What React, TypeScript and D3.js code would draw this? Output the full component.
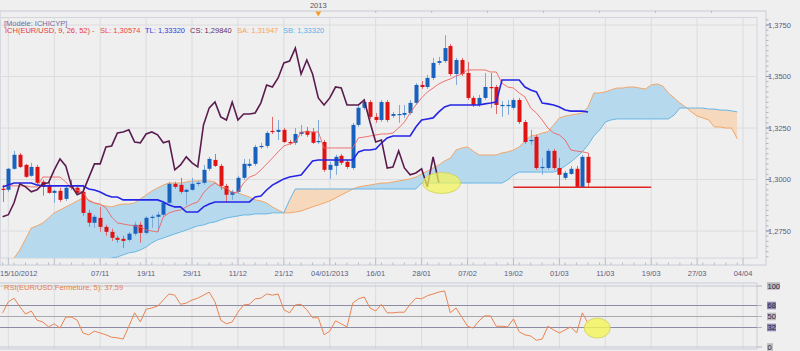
import React from "react";
import * as d3 from "d3";

// ---------- DATA ----------
// OHLC per daily bar, index 0 = first bar on screen
const candles: number[][] = [
  [1.2955,1.2974,1.2891,1.2950],[1.2950,1.3056,1.2940,1.3052],[1.3052,1.3139,1.3047,1.3120],[1.3120,1.3129,1.3056,1.3061],
  [1.3071,1.3076,1.3008,1.3013],[1.3018,1.3081,1.3013,1.3061],[1.3061,1.3071,1.2974,1.2984],[1.2989,1.2998,1.2921,1.2964],
  [1.2974,1.2998,1.2931,1.2935],[1.2935,1.2950,1.2887,1.2945],[1.2945,1.2960,1.2891,1.2901],[1.2906,1.2969,1.2896,1.2960],
  [1.2969,1.2998,1.2950,1.2960],[1.2960,1.2974,1.2926,1.2935],[1.2940,1.2974,1.2824,1.2838],[1.2838,1.2853,1.2770,1.2790],
  [1.2790,1.2829,1.2765,1.2819],[1.2814,1.2867,1.2746,1.2770],[1.2770,1.2780,1.2727,1.2746],[1.2746,1.2761,1.2702,1.2717],
  [1.2717,1.2727,1.2693,1.2707],[1.2712,1.2727,1.2668,1.2702],[1.2707,1.2746,1.2698,1.2737],[1.2737,1.2795,1.2727,1.2780],
  [1.2780,1.2795,1.2693,1.2741],[1.2741,1.2824,1.2732,1.2814],[1.2814,1.2829,1.2765,1.2819],[1.2819,1.2843,1.2746,1.2829],
  [1.2829,1.2896,1.2819,1.2887],[1.2887,1.2989,1.2877,1.2979],[1.2979,1.2989,1.2955,1.2964],[1.2974,1.3008,1.2931,1.2940],
  [1.2940,1.2955,1.2877,1.2950],[1.2950,1.3008,1.2945,1.2979],[1.2979,1.2994,1.2969,1.2984],[1.2984,1.3071,1.2974,1.3047],
  [1.3052,1.3110,1.3042,1.3100],[1.3095,1.3124,1.3061,1.3066],[1.3066,1.3076,1.2950,1.2969],[1.2969,1.2979,1.2887,1.2926],
  [1.2926,1.2950,1.2901,1.2940],[1.2940,1.3018,1.2931,1.3008],[1.3008,1.3100,1.2998,1.3076],[1.3066,1.3100,1.3056,1.3076],
  [1.3076,1.3168,1.3066,1.3158],[1.3158,1.3178,1.3149,1.3163],[1.3163,1.3236,1.3153,1.3226],[1.3236,1.3304,1.3221,1.3231],
  [1.3231,1.3289,1.3192,1.3241],[1.3241,1.3250,1.3178,1.3182],[1.3182,1.3192,1.3168,1.3178],[1.3178,1.3250,1.3168,1.3221],
  [1.3221,1.3265,1.3211,1.3231],[1.3236,1.3255,1.3207,1.3217],[1.3231,1.3250,1.3173,1.3178],[1.3182,1.3289,1.3173,1.3187],
  [1.3182,1.3192,1.3037,1.3047],[1.3047,1.3086,1.3003,1.3071],[1.3066,1.3120,1.3023,1.3110],[1.3115,1.3124,1.3071,1.3081],
  [1.3086,1.3095,1.3052,1.3061],[1.3056,1.3275,1.3047,1.3265],[1.3265,1.3357,1.3255,1.3348],[1.3348,1.3391,1.3338,1.3376],
  [1.3376,1.3386,1.3294,1.3304],[1.3304,1.3323,1.3275,1.3289],[1.3289,1.3386,1.3279,1.3376],[1.3376,1.3386,1.3279,1.3289],
  [1.3309,1.3328,1.3299,1.3318],[1.3314,1.3362,1.3275,1.3318],[1.3314,1.3362,1.3299,1.3323],[1.3323,1.3386,1.3314,1.3372],
  [1.3372,1.3468,1.3362,1.3459],[1.3459,1.3478,1.3440,1.3449],[1.3449,1.3508,1.3440,1.3493],[1.3493,1.3590,1.3483,1.3566],
  [1.3566,1.3595,1.3556,1.3575],[1.3575,1.3701,1.3566,1.3638],[1.3648,1.3658,1.3502,1.3512],[1.3512,1.3590,1.3459,1.3580],
  [1.3580,1.3590,1.3502,1.3512],[1.3517,1.3570,1.3386,1.3396],[1.3396,1.3406,1.3352,1.3362],[1.3362,1.3411,1.3352,1.3396],
  [1.3396,1.3517,1.3386,1.3449],[1.3449,1.3517,1.3348,1.3444],[1.3449,1.3459,1.3318,1.3362],[1.3357,1.3381,1.3304,1.3362],
  [1.3357,1.3386,1.3314,1.3362],[1.3348,1.3396,1.3338,1.3386],[1.3386,1.3396,1.3270,1.3279],[1.3279,1.3289,1.3173,1.3182],
  [1.3187,1.3241,1.3168,1.3192],[1.3207,1.3217,1.3047,1.3056],[1.3056,1.3105,1.3023,1.3061],[1.3056,1.3149,1.3047,1.3139],
  [1.3139,1.3149,1.3047,1.3056],[1.3056,1.3105,1.2964,1.3023],[1.3008,1.3042,1.2998,1.3032],[1.3027,1.3066,1.3023,1.3052],
  [1.3052,1.3066,1.2960,1.2964],[1.2964,1.3120,1.2960,1.3110],[1.3110,1.3129,1.2960,1.2984],
];

// Tenkan-sen (SL, 9)
const tenkan: number[] = [
  1.2969,1.2969,1.2969,1.2969,1.2969,1.2964,1.2964,1.3012,1.3012,1.3012,
  1.3012,1.2988,1.2959,1.2949,1.2939,1.2896,1.2886,1.2881,1.2862,1.2818,
  1.2789,1.2784,1.2779,1.2775,1.2770,1.2755,1.2750,1.2745,1.2818,1.2838,
  1.2847,1.2852,1.2867,1.2881,1.2891,1.2935,1.2964,1.2983,1.2964,1.2959,
  1.2935,1.2939,1.2983,1.3012,1.3022,1.3046,1.3075,1.3104,1.3134,1.3163,
  1.3172,1.3182,1.3231,1.3231,1.3231,1.3231,1.3153,1.3153,1.3153,1.3153,
  1.3153,1.3153,1.3202,1.3206,1.3211,1.3216,1.3221,1.3221,1.3226,1.3250,
  1.3279,1.3323,1.3362,1.3396,1.3425,1.3444,1.3464,1.3478,1.3488,1.3502,
  1.3512,1.3532,1.3532,1.3532,1.3532,1.3522,1.3522,1.3468,1.3449,1.3444,
  1.3420,1.3401,1.3347,1.3323,1.3289,1.3250,1.3226,1.3216,1.3192,1.3143,
  1.3138,1.3134,1.3129,
];

// Kijun-sen (TL, 26)
const kijun: number[] = [
  1.2964,1.2973,1.2983,1.2983,1.2983,1.2983,1.2973,1.2969,1.2969,1.2969,
  1.2969,1.2969,1.2969,1.2969,1.2969,1.2954,1.2949,1.2939,1.2925,1.2915,
  1.2915,1.2901,1.2901,1.2901,1.2901,1.2901,1.2901,1.2901,1.2891,1.2876,
  1.2867,1.2867,1.2842,1.2842,1.2842,1.2867,1.2881,1.2891,1.2891,1.2891,
  1.2891,1.2891,1.2891,1.2891,1.2915,1.2920,1.2949,1.2973,1.2988,1.3003,
  1.3012,1.3017,1.3022,1.3056,1.3090,1.3095,1.3095,1.3095,1.3095,1.3095,
  1.3095,1.3095,1.3134,1.3143,1.3143,1.3148,1.3177,1.3202,1.3211,1.3211,
  1.3211,1.3211,1.3255,1.3289,1.3294,1.3299,1.3328,1.3352,1.3362,1.3362,
  1.3362,1.3362,1.3362,1.3362,1.3367,1.3371,1.3376,1.3483,1.3483,1.3483,
  1.3483,1.3449,1.3435,1.3425,1.3371,1.3367,1.3362,1.3352,1.3337,1.3332,
  1.3332,1.3332,1.3328,
];

// Senkou span A (SA) and B (SB), projected 26 bars ahead (indices 0..128)
const senkouA: number[] = [
  1.2536,1.2575,1.2619,1.2658,1.2711,1.2765,1.2775,1.2789,1.2813,1.2838,
  1.2852,1.2867,1.2881,1.2896,1.2910,1.2901,1.2886,1.2876,1.2871,1.2867,
  1.2876,1.2881,1.2881,1.2886,1.2906,1.2925,1.2944,1.2959,1.2973,1.2983,
  1.2983,1.2983,1.2988,1.2993,1.2993,1.2993,1.2993,1.2988,1.2964,1.2949,
  1.2939,1.2935,1.2925,1.2915,1.2901,1.2896,1.2886,1.2867,1.2852,1.2838,
  1.2838,1.2842,1.2847,1.2857,1.2867,1.2876,1.2886,1.2896,1.2910,1.2925,
  1.2939,1.2954,1.2964,1.2969,1.2973,1.2978,1.2983,1.2983,1.2988,1.2993,
  1.2998,1.3003,1.3012,1.3027,1.3041,1.3056,1.3070,1.3090,1.3104,1.3143,
  1.3153,1.3158,1.3138,1.3119,1.3119,1.3119,1.3119,1.3129,1.3134,1.3143,
  1.3158,1.3187,1.3211,1.3216,1.3226,1.3231,1.3265,1.3299,1.3308,1.3313,
  1.3318,1.3323,1.3352,1.3420,1.3420,1.3425,1.3435,1.3444,1.3444,1.3449,
  1.3449,1.3444,1.3439,1.3459,1.3464,1.3454,1.3420,1.3396,1.3371,1.3352,
  1.3328,1.3308,1.3299,1.3289,1.3255,1.3255,1.3250,1.3250,1.3197,
];
const senkouB: number[] = [
  1.2464,1.2469,1.2474,1.2478,1.2483,1.2488,1.2498,1.2507,1.2517,1.2527,
  1.2536,1.2546,1.2556,1.2561,1.2571,1.2580,1.2590,1.2600,1.2609,1.2619,
  1.2624,1.2634,1.2644,1.2648,1.2658,1.2672,1.2692,1.2707,1.2716,1.2726,
  1.2736,1.2745,1.2755,1.2765,1.2775,1.2779,1.2789,1.2794,1.2804,1.2813,
  1.2818,1.2823,1.2828,1.2828,1.2833,1.2833,1.2833,1.2838,1.2838,1.2838,
  1.2901,1.2954,1.2954,1.2954,1.2954,1.2954,1.2954,1.2954,1.2954,1.2954,
  1.2954,1.2954,1.2954,1.2954,1.2954,1.2954,1.2954,1.2954,1.2954,1.2954,
  1.2954,1.2954,1.2954,1.2983,1.2983,1.2983,1.2983,1.2983,1.2983,1.2983,
  1.2983,1.2983,1.2983,1.2983,1.2983,1.2983,1.2983,1.2983,1.2998,1.3022,
  1.3036,1.3036,1.3036,1.3036,1.3036,1.3036,1.3036,1.3046,1.3066,1.3085,
  1.3109,1.3134,1.3168,1.3211,1.3240,1.3279,1.3289,1.3294,1.3294,1.3294,
  1.3294,1.3294,1.3294,1.3294,1.3294,1.3294,1.3294,1.3313,1.3347,1.3347,
  1.3347,1.3347,1.3347,1.3342,1.3342,1.3337,1.3337,1.3333,1.3328,
];

// RSI(5)
const rsi: number[] = [
  56,74,80,66,54,59,44,41,33,38,31,49,49,44,23,20,26,23,20,16,
  15,13,34,56,41,62,64,67,77,87,85,70,72,77,80,85,90,74,44,38,
  41,57,69,70,79,80,87,85,87,61,56,69,70,61,48,48,20,26,43,38,
  33,72,79,82,64,59,70,56,56,57,57,70,80,79,84,87,90,92,56,64,
  49,34,31,43,51,51,34,34,33,46,25,20,18,11,13,34,28,23,28,33,
  23,56,39,
];

const dateLabels: string[] = [
  "15/10/2012", "", "07/11", "19/11", "29/11", "11/12", "21/12", "04/01/2013", "16/01",
  "28/01", "07/02", "19/02", "01/03", "11/03", "19/03", "27/03", "04/04",
];
const DATE_FIRST = 1;
const DATE_STEP = 8;
const priceTicks: number[] = [1.275, 1.3, 1.325, 1.35, 1.375];
const rsiLevels: number[] = [100, 68, 50, 32, 0];
const CHIKOU_SHIFT = 26;
const YEAR_INDEX = 55;
const supportLine = { price: 1.2962, from: 89, to: 113 };
const markMain = { index: 76.5, price: 1.2983 };
const markRsi = { index: 103.6, value: 31 };

const FONT = "'Liberation Sans', Arial, sans-serif";

export default function App() {
  const x = d3.scaleLinear().domain([0, 129]).range([2.6, 2.6 + 5.74 * 129]);
  const y = d3.scaleLinear().domain([1.275, 1.375]).range([231, 25]);
  const yr = d3.scaleLinear().domain([0, 100]).range([347, 286]);

  const P = { l: 0, t: 17.5, r: 757, b: 258 };
  const R = { t: 283, b: 348 };

  const cIdx = d3.range(senkouA.length);
  const cloud = d3.area<number>().x((i) => x(i)).y0((i) => y(senkouB[i])).y1((i) => y(senkouA[i]));
  const aboveB = d3.area<number>().x((i) => x(i)).y0(-50).y1((i) => y(senkouB[i]));
  const belowB = d3.area<number>().x((i) => x(i)).y0((i) => y(senkouB[i])).y1(500);
  const arrLine = d3.line<number>().x((_, i) => x(i)).y((v) => y(v));
  const pairLine = d3.line<[number, number]>().x((d) => x(d[0])).y((d) => y(d[1]));
  const rsiLine = d3.line<number>().x((_, i) => x(i)).y((v) => yr(v));

  const closes = candles.map((c) => c[3]);
  const chikou: [number, number][] = closes.slice(CHIKOU_SHIFT).map((c, j) => [j, c]);

  const dateTicks = dateLabels.map((lab, k) => ({ lab, i: DATE_FIRST + k * DATE_STEP }));
  const minorY = d3.range(1.2625, 1.3776, 0.0025);
  const minorX = d3.range(0, 130, 2);
  const topTicks = d3.range(0, 7).map((k) => 65 + k * 9.75);

  const labelColor = "#5c5c80";

  return (
    <svg width={800} height={351} style={{ position: "absolute", left: 0, top: 0, fontFamily: FONT }}>
      <defs>
        <clipPath id="plotClip">
          <rect x={P.l} y={P.t} width={P.r - P.l} height={P.b - P.t} />
        </clipPath>
        <clipPath id="rsiClip">
          <rect x={0} y={R.t} width={P.r} height={R.b - R.t} />
        </clipPath>
        <clipPath id="aboveB">
          <path d={aboveB(cIdx) || ""} />
        </clipPath>
        <clipPath id="belowB">
          <path d={belowB(cIdx) || ""} />
        </clipPath>
      </defs>
      <rect x={0} y={0} width={800} height={351} fill="#efefef" />

      {/* top band */}
      <rect x={0} y={11} width={766} height={254} fill="none" stroke="#c9ccd6" />
      <rect x={0} y={17.5} width={757} height={240.5} fill="none" stroke="#d2d5de" />
      {topTicks.map((t, k) => (
        <line key={k} x1={x(t)} x2={x(t)} y1={11} y2={13} stroke="#b8bccb" />
      ))}
      <text x={x(YEAR_INDEX)} y={8} fontSize={7.5} fill="#555566" textAnchor="middle">2013</text>
      <path d={`M${x(YEAR_INDEX) - 3},11.5 L${x(YEAR_INDEX) + 3},11.5 L${x(YEAR_INDEX)},16.5 Z`} fill="#f0a030" />

      {/* grid main */}
      {priceTicks.map((p) => (
        <line key={p} x1={P.l} x2={P.r} y1={y(p)} y2={y(p)} stroke="#dcdcdf" />
      ))}
      {dateTicks.map((d) => (
        <line key={d.i} x1={x(d.i)} x2={x(d.i)} y1={P.t} y2={P.b} stroke="#dcdcdf" />
      ))}

      <g clipPath="url(#plotClip)">
        {/* cloud */}
        <path d={cloud(cIdx) || ""} fill="#b6d9ee" clipPath="url(#aboveB)" />
        <path d={cloud(cIdx) || ""} fill="#f6d8bc" clipPath="url(#belowB)" />
        <path d={arrLine(senkouA) || ""} fill="none" stroke="#f2a66a" strokeWidth={1} />
        <path d={arrLine(senkouB) || ""} fill="none" stroke="#66b6e6" strokeWidth={1} />

        {/* candles */}
        {candles.map((c, i) => {
          const [o, h, l, cl] = c;
          const up = cl >= o;
          const cx = Math.round(x(i));
          const top = y(Math.max(o, cl));
          const bh = Math.max(1.2, Math.abs(y(o) - y(cl)));
          return (
            <g key={i}>
              <line x1={cx + 0.5} x2={cx + 0.5} y1={y(h)} y2={y(l)} stroke={up ? "#7fa9d6" : "#e06a6a"} strokeWidth={1} />
              <rect x={cx - 1.5} y={top} width={4} height={bh} fill={up ? "#1862bd" : "#e01212"} />
            </g>
          );
        })}

        {/* lines */}
        <path d={arrLine(tenkan) || ""} fill="none" stroke="#f06464" strokeWidth={1} opacity={0.9} />
        <path d={arrLine(kijun) || ""} fill="none" stroke="#2525e6" strokeWidth={1.6} />
        <path d={pairLine(chikou) || ""} fill="none" stroke="#5a1c4e" strokeWidth={1.6} />

        <line x1={x(supportLine.from)} x2={x(supportLine.to)} y1={y(supportLine.price)} y2={y(supportLine.price)} stroke="#e02424" strokeWidth={1.5} />
        <ellipse cx={x(markMain.index)} cy={y(markMain.price)} rx={19} ry={10.5} fill="#f4f456" fillOpacity={0.72} stroke="#cfcf5a" strokeWidth={0.8} />
      </g>

      {/* right axis */}
      {minorY.map((p, k) => (
        <line key={k} x1={766} x2={768.5} y1={y(p)} y2={y(p)} stroke="#b0b4c4" />
      ))}
      {priceTicks.map((p) => (
        <g key={p}>
          <line x1={766} x2={770} y1={y(p)} y2={y(p)} stroke="#9096aa" />
          <text x={768} y={y(p) + 2.5} fontSize={7.5} fill={labelColor}>{d3.format(".4f")(p).replace(".", ",")}</text>
        </g>
      ))}

      {/* date axis */}
      {minorX.map((i) => (
        <line key={i} x1={x(i)} x2={x(i)} y1={262.5} y2={265} stroke="#b8bccb" />
      ))}
      {dateTicks.map((d) => (
        <g key={d.i}>
          <line x1={x(d.i)} x2={x(d.i)} y1={258} y2={265} stroke="#b8bccb" />
          {d.lab && (
            <text x={d.i === DATE_FIRST ? 0 : x(d.i)} y={276} fontSize={7.5} fill={labelColor} textAnchor={d.i === DATE_FIRST ? "start" : "middle"}>
              {d.lab}
            </text>
          )}
        </g>
      ))}

      {/* legend */}
      <text x={4} y={25.5} fontSize={7.5} fill="#6e6ea6">[Modèle: ICHICYP]</text>
      <g fontSize={7.5}>
        <text x={5} y={33} fill="#e83a3a">ICH(EUR/USD, 9, 26, 52) -</text>
        <text x={100} y={33} fill="#f04444">SL: 1,30574</text>
        <text x={145} y={33} fill="#3a3ae2">TL: 1,33320</text>
        <text x={190} y={33} fill="#6a2c5e">CS: 1,29840</text>
        <text x={237} y={33} fill="#f2a466">SA: 1,31947</text>
        <text x={283} y={33} fill="#5ab2e8">SB: 1,33320</text>
      </g>

      {/* RSI panel */}
      <line x1={0} x2={757} y1={R.t} y2={R.t} stroke="#c9ccd6" />
      <line x1={0} x2={757} y1={R.b + 1} y2={R.b + 1} stroke="#c9ccd6" />
      <line x1={757} x2={757} y1={R.t} y2={R.b + 1} stroke="#c9ccd6" />
      {dateTicks.map((d) => (
        <line key={d.i} x1={x(d.i)} x2={x(d.i)} y1={R.t} y2={R.b} stroke="#dcdcdf" />
      ))}
      {rsiLevels.map((lv) => {
        const strong = lv === 68 || lv === 32;
        const mid = lv === 50;
        return (
          <g key={lv}>
            <line x1={0} x2={757} y1={yr(lv)} y2={yr(lv)} stroke={strong ? "#8c8ca6" : mid ? "#a8a8ae" : "#c6c8d2"} strokeWidth={strong ? 1.2 : 1} />
            <line x1={757} x2={762} y1={yr(lv)} y2={yr(lv)} stroke="#b0b4c4" />
            <rect x={767} y={yr(lv) - 3.8} width={lv === 100 ? 13 : lv === 0 ? 6 : 9} height={7.6} fill={strong ? "#8a8ab6" : "#bcbcbc"} />
            <text x={767.5} y={yr(lv) + 2.6} fontSize={7.5} fill="#26264a">{lv}</text>
          </g>
        );
      })}
      <g clipPath="url(#rsiClip)">
        <path d={rsiLine(rsi) || ""} fill="none" stroke="#ea8452" strokeWidth={1} />
        <ellipse cx={x(markRsi.index)} cy={yr(markRsi.value)} rx={13} ry={10} fill="#f4f456" fillOpacity={0.8} stroke="#cfcf5a" strokeWidth={0.8} />
      </g>
      <text x={4} y={289.5} fontSize={7.5} fill="#e4804a">RSI(EUR/USD.Fermeture, 5): 37,59</text>
    </svg>
  );
}
